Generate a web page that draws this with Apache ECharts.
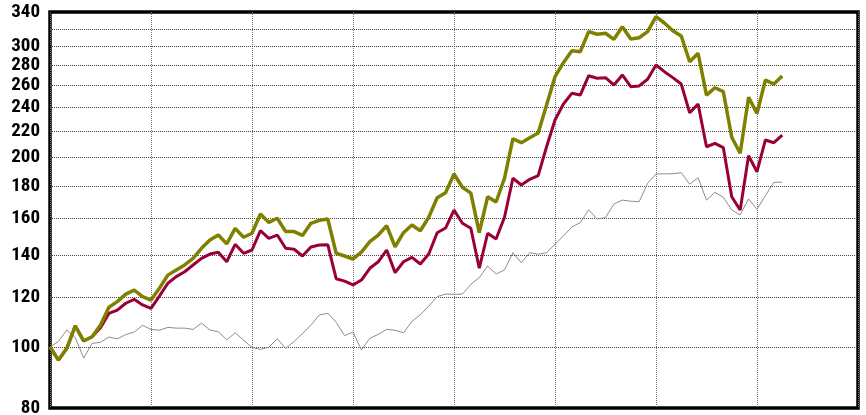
<!DOCTYPE html>
<html>
<head>
<meta charset="utf-8">
<script src="https://cdn.jsdelivr.net/npm/echarts@6/dist/echarts.min.js"></script>
<style>
  html, body { margin: 0; padding: 0; background: #fff; }
  #main { width: 866px; height: 415px; }
</style>
</head>
<body>
<div id="main"></div>
<script>
// monthly index values, start = 100
var olive = [100, 95.3, 99.5, 108, 102.2, 103.8, 108.3, 115.6, 118, 121.3, 123.1, 120.2, 118.7, 123.9, 130,
  132.5, 134.9, 138.2, 143.4, 147.8, 150.5, 145.7, 154.2, 149.3, 151.5, 162.5, 157.6, 160, 152.4, 152.4, 150.3,
  157.1, 158.8, 159.6, 140.8, 139.4, 137.9, 141.4, 146.9, 150.5, 155.7, 144.2, 151.8, 156.1, 152.9,
  160.6, 172.5, 175.7, 188.1, 179.2, 175.4, 151.8, 173.1, 169.8, 185.2, 214, 210.9, 214.8, 218.5,
  242, 268.4, 282.5, 295.1, 294, 316.4, 313.4, 314.6, 307.7, 322.2, 308, 309.5, 316.4, 334.3,
  326.6, 317.5, 311.4, 283.5, 292.4, 251, 257.8, 254.1, 215.1, 202.9, 248.9, 234.8, 265.2, 261.3, 269.1];

var crimson = [100, 95.3, 99.5, 108, 102.2, 103.8, 107.3, 113, 114.4, 117.3, 119, 116.6, 115.1, 120.4, 126.2,
  129.3, 131.6, 134.9, 138.2, 140.4, 141.3, 136.5, 145.5, 140.8, 142.5, 152.9, 148.7, 150.5, 143.4, 142.9, 139.4,
  144.1, 145.1, 145.3, 128.3, 127.2, 125.4, 127.7, 133.3, 136.5, 142.5, 131.2, 136.5, 138.7, 135.4,
  140.4, 151.8, 154.4, 164.9, 157.1, 154.3, 133.3, 151.5, 148.3, 160.6, 185.2, 180.7, 184.5, 187,
  207.8, 229.1, 242.9, 252.6, 251, 269.4, 266.9, 267.5, 260.4, 270.1, 258.8, 259.5, 265.9, 280.1,
  273.4, 267.5, 261.3, 235.3, 242.9, 207.8, 210.4, 207.1, 173.1, 164.9, 201.1, 189.7, 213, 210.9, 216.9];

var grey = [100, 102, 106.4, 103.5, 96, 101.3, 101.7, 103.7, 103, 104.6, 105.6, 108.2, 106.6, 106.3, 107.4,
  107.1, 107.1, 106.6, 109.1, 106.4, 105.7, 102.6, 105.3, 102.5, 99.8, 99.1, 99.9, 103, 99.5, 102, 105,
  108.3, 112.4, 113.1, 109.4, 104.2, 105.6, 98.9, 103.2, 104.7, 106.6, 106.3, 105.3, 109.8, 112.5,
  116.1, 120.2, 121.3, 121.2, 121.3, 125.7, 128.8, 134.4, 130.5, 132.5, 141.1, 136, 141.1, 140.3,
  141.1, 145.5, 150, 155, 157.5, 165, 159.6, 160.4, 168.6, 171, 170.3, 170, 181.8, 188.1,
  188.2, 188.3, 189, 181.2, 185.6, 171, 175.9, 172.8, 164.9, 162, 171.7, 165.4, 173.8, 182.5, 182.5];

var gridValues = [100, 120, 140, 160, 180, 200, 220, 240, 260, 280, 300, 320];
var labelValues = [80, 100, 120, 140, 160, 180, 200, 220, 240, 260, 280, 300, 340];
var monthsShown = 96;

function pairs(arr) {
  return arr.map(function (v, i) { return [i, v]; });
}

var labelFont = '"Liberation Sans Narrow", "Roboto Condensed", "DejaVu Sans Condensed", "Liberation Sans", sans-serif';

var chart = echarts.init(document.getElementById('main'));
chart.setOption({
  animation: false,
  grid: {
    left: 50, right: 8, top: 12, bottom: 7,
    show: true,
    borderColor: '#000',
    borderWidth: 3.5
  },
  xAxis: {
    type: 'value',
    min: 0,
    max: monthsShown,
    interval: 12,
    axisLine: { show: false },
    axisTick: { show: false },
    axisLabel: { show: false },
    splitLine: { show: true, lineStyle: { color: '#777', type: 'dotted', width: 1 } }
  },
  yAxis: {
    type: 'log',
    min: 80,
    max: 340,
    axisLine: { show: false },
    axisTick: { show: false },
    axisLabel: { show: false },
    splitLine: { show: false }
  },
  series: [
    {
      name: 'grey', type: 'line', data: pairs(grey), symbol: 'none', z: 3,
      lineStyle: { color: '#8c8c8c', width: 1 }
    },
    {
      name: 'crimson', type: 'line', data: pairs(crimson), symbol: 'none', z: 4,
      lineStyle: { color: '#9a0036', width: 3 }
    },
    {
      name: 'olive', type: 'line', data: pairs(olive), symbol: 'none', z: 5,
      lineStyle: { color: '#808000', width: 3.5 }
    }
  ]
});

// horizontal rules and y labels, placed through the log axis scale
var x0 = chart.convertToPixel({ xAxisIndex: 0 }, 0);
var x1 = chart.convertToPixel({ xAxisIndex: 0 }, monthsShown);

var rules = gridValues.map(function (v) {
  var y = Math.round(chart.convertToPixel({ yAxisIndex: 0 }, v)) + 0.5;
  return {
    type: 'line',
    z: 1,
    silent: true,
    shape: { x1: x0, y1: y, x2: x1, y2: y },
    style: { stroke: '#444', lineWidth: 1, lineDash: [1, 1] }
  };
});

var labels = labelValues.map(function (v) {
  return {
    type: 'text',
    z: 10,
    x: x0 - 10,
    y: chart.convertToPixel({ yAxisIndex: 0 }, v),
    style: {
      text: String(v),
      align: 'right',
      verticalAlign: 'middle',
      fill: '#000',
      fontSize: 19,
      fontWeight: 'bold',
      fontFamily: labelFont
    }
  };
});

chart.setOption({ graphic: rules.concat(labels) });
</script>
</body>
</html>
